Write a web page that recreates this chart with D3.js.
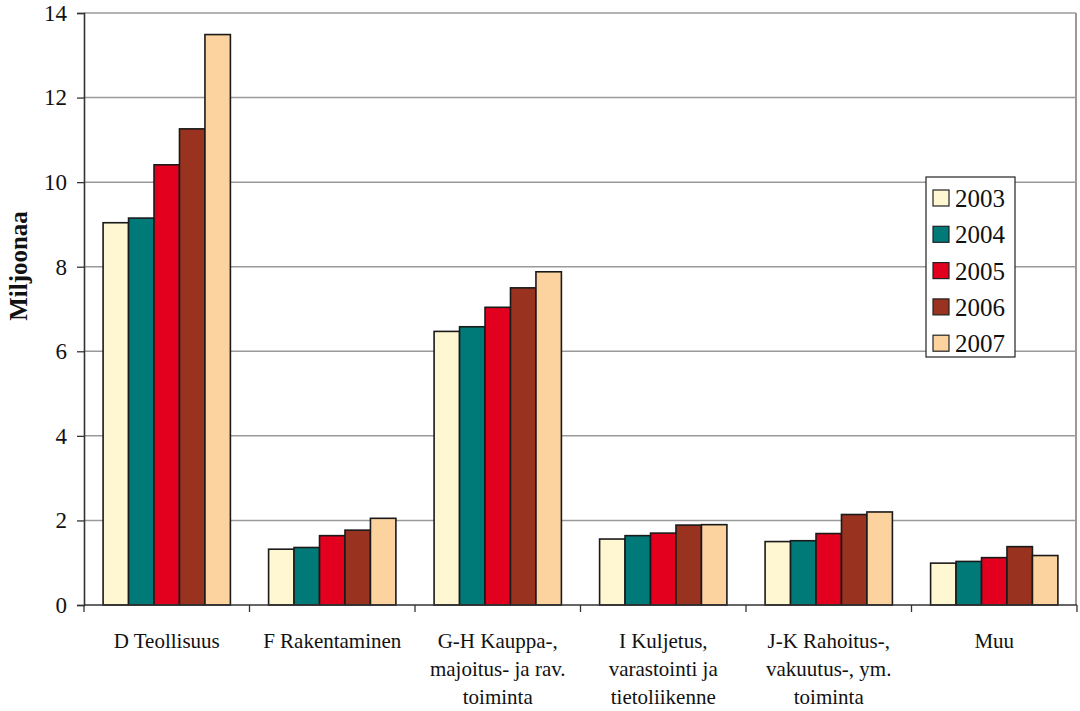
<!DOCTYPE html>
<html>
<head>
<meta charset="utf-8">
<script src="https://cdn.jsdelivr.net/npm/d3@7"></script>
</head>
<body style="margin:0;background:#fff">
<svg id="chart" width="1080" height="711" style="display:block;font-family:'Liberation Serif',serif"></svg>
<script>
const categories = [
  ["D Teollisuus"],
  ["F Rakentaminen"],
  ["G-H Kauppa-,", "majoitus- ja rav.", "toiminta"],
  ["I Kuljetus,", "varastointi ja", "tietoliikenne"],
  ["J-K Rahoitus-,", "vakuutus-, ym.", "toiminta"],
  ["Muu"]
];
const years = ["2003", "2004", "2005", "2006", "2007"];
const v2003 = [9.04, 1.32, 6.47, 1.56, 1.50, 0.99];
const v2004 = [9.15, 1.36, 6.58, 1.64, 1.52, 1.03];
const v2005 = [10.41, 1.64, 7.04, 1.70, 1.69, 1.12];
const v2006 = [11.26, 1.77, 7.50, 1.89, 2.14, 1.38];
const v2007 = [13.49, 2.05, 7.88, 1.90, 2.20, 1.17];
const yTicks = [0, 2, 4, 6, 8, 10, 12, 14];
const colors = ["#FFF7D2", "#007A78", "#E2001E", "#99321E", "#FCD39E"];

const seriesValues = [v2003, v2004, v2005, v2006, v2007];
const svg = d3.select("#chart");
const mLeft = 84, mRight = 1077, mTop = 13, mBottom = 605;

const y = d3.scaleLinear().domain([0, 14]).range([mBottom, mTop]);
const catKeys = categories.map((c, i) => i);
const x0 = d3.scaleBand().domain(catKeys).range([mLeft, mRight]).padding(0);
const x1 = d3.scaleBand().domain(years).range([0, x0.bandwidth()]).paddingInner(0).paddingOuter(0.75);
const color = d3.scaleOrdinal().domain(years).range(colors);

function serif(sel) { return sel.attr("font-family", "Liberation Serif").style("font-family", "'Liberation Serif', serif"); }

// gridlines
svg.append("g").selectAll("line").data(yTicks.filter(t => t > 0)).join("line")
  .attr("x1", mLeft).attr("x2", mRight - 1)
  .attr("y1", d => y(d)).attr("y2", d => y(d))
  .attr("stroke", "#9a9a9a").attr("stroke-width", 1.5);
// right border
svg.append("line").attr("x1", mRight - 1).attr("x2", mRight - 1)
  .attr("y1", y(14)).attr("y2", mBottom)
  .attr("stroke", "#9a9a9a").attr("stroke-width", 2);

// bars
const groups = svg.append("g").selectAll("g").data(catKeys).join("g")
  .attr("transform", d => `translate(${x0(d)},0)`);
groups.selectAll("rect")
  .data(ci => years.map((yr, si) => ({ yr, v: seriesValues[si][ci] })))
  .join("rect")
  .attr("x", d => x1(d.yr))
  .attr("width", x1.bandwidth())
  .attr("y", d => y(d.v))
  .attr("height", d => mBottom - y(d.v))
  .attr("fill", d => color(d.yr))
  .attr("stroke", "#1a1a1a").attr("stroke-width", 1.6);

// y axis
const yAxis = d3.axisLeft(y).tickValues(yTicks).tickSize(7).tickPadding(10).tickFormat(d3.format("d"));
const gy = svg.append("g").attr("transform", `translate(${mLeft},0)`).call(yAxis);
serif(gy).attr("font-size", 23);
gy.select(".domain").attr("stroke", "#333").attr("stroke-width", 1.6);
gy.selectAll(".tick line").attr("stroke", "#333").attr("stroke-width", 1.3);
serif(gy.selectAll(".tick text")).attr("font-size", 23).attr("fill", "#111");

// x axis
const boundaries = d3.range(categories.length + 1).map(i => mLeft + i * x0.step());
const gx = svg.append("g");
gx.append("line").attr("x1", mLeft).attr("x2", mRight).attr("y1", mBottom).attr("y2", mBottom)
  .attr("stroke", "#333").attr("stroke-width", 1.6);
gx.selectAll("line.tk").data(boundaries).join("line").attr("class", "tk")
  .attr("x1", d => d).attr("x2", d => d).attr("y1", mBottom).attr("y2", mBottom + 7)
  .attr("stroke", "#333").attr("stroke-width", 1.3);
const labels = serif(gx.selectAll("text").data(catKeys).join("text"))
  .attr("x", d => x0(d) + x0.bandwidth() / 2)
  .attr("y", 648)
  .attr("text-anchor", "middle")
  .attr("font-size", 21).attr("fill", "#111");
labels.selectAll("tspan").data(d => categories[d]).join("tspan")
  .attr("x", function() { return d3.select(this.parentNode).attr("x"); })
  .attr("dy", (d, i) => i === 0 ? 0 : 28)
  .text(d => d);

// y title
serif(svg.append("text"))
  .attr("transform", `translate(27,266) rotate(-90)`)
  .attr("text-anchor", "middle")
  .attr("font-size", 25).attr("font-weight", "bold").attr("fill", "#111")
  .text("Miljoonaa");

// legend
const lg = svg.append("g");
lg.append("rect").attr("x", 926).attr("y", 177).attr("width", 89).attr("height", 180)
  .attr("fill", "#fff").attr("stroke", "#222").attr("stroke-width", 1.2);
const items = lg.selectAll("g.item").data(years).join("g").attr("class", "item")
  .attr("transform", (d, i) => `translate(0,${198 + i * 36.3})`);
items.append("rect").attr("x", 933).attr("y", -8).attr("width", 16).attr("height", 16)
  .attr("fill", d => color(d)).attr("stroke", "#222").attr("stroke-width", 1.2);
serif(items.append("text")).attr("x", 955).attr("y", 9)
  .attr("font-size", 25).attr("fill", "#111").text(d => d);
</script>
</body>
</html>
